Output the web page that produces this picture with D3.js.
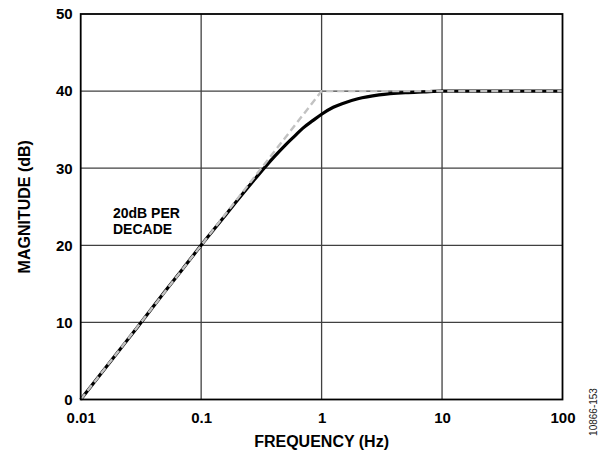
<!DOCTYPE html>
<html><head><meta charset="utf-8">
<script src="https://cdn.jsdelivr.net/npm/d3@7/dist/d3.min.js"></script>
<style>body{margin:0;background:#fff;} text{font-family:"Liberation Sans",Arial,sans-serif;}</style>
</head><body>
<svg id="c" width="601" height="450"></svg>
<script>
const xTicks = [0.01, 0.1, 1, 10, 100];
const xTickLabels = ["0.01", "0.1", "1", "10", "100"];
const yTicks = [0, 10, 20, 30, 40, 50];
const respFreq = [0.01, 0.02, 0.03, 0.05, 0.07, 0.1, 0.15, 0.2, 0.3, 0.4, 0.5, 0.6, 0.7, 0.85, 1, 1.25, 1.5, 2, 3, 5, 7, 10, 30, 100];
const respDb   = [0, 6.0, 9.5, 14.0, 16.9, 20.0, 23.4, 25.85, 29.17, 31.4, 33.0, 34.2, 35.2, 36.2, 37.0, 37.9, 38.4, 39.0, 39.5, 39.8, 39.9, 40.0, 40.0, 40.0];
const asymFreq = [0.01, 1, 100];
const asymDb   = [0, 40, 40];

const svg = d3.select("#c");
const L = 80.7, R = 562.5, T = 14, B = 399.5;
const x = d3.scaleLog().domain([0.01, 100]).range([L, R]);
const y = d3.scaleLinear().domain([0, 50]).range([B, T]);

// grid
svg.append("g").selectAll("line").data(xTicks.slice(1, -1)).join("line")
  .attr("x1", d => x(d)).attr("x2", d => x(d)).attr("y1", T).attr("y2", B)
  .attr("stroke", "#404040").attr("stroke-width", 1.3);
svg.append("g").selectAll("line").data(yTicks.slice(1, -1)).join("line")
  .attr("y1", d => y(d)).attr("y2", d => y(d)).attr("x1", L).attr("x2", R)
  .attr("stroke", "#404040").attr("stroke-width", 1.3);

// curves
const line = d3.line().x(d => x(d[0])).y(d => y(d[1])).curve(d3.curveMonotoneX);
svg.append("path").datum(respFreq.map((f, i) => [f, respDb[i]]))
  .attr("d", line).attr("fill", "none").attr("stroke", "#000").attr("stroke-width", 3.2);
const line2 = d3.line().x(d => x(d[0])).y(d => y(d[1]));
svg.append("path").datum(asymFreq.map((f, i) => [f, asymDb[i]]))
  .attr("d", line2).attr("fill", "none").attr("stroke", "#c2c2c2").attr("stroke-width", 2.4)
  .attr("stroke-dasharray", "7,4");

// frame
svg.append("rect").attr("x", L).attr("y", T).attr("width", R - L).attr("height", B - T)
  .attr("fill", "none").attr("stroke", "#000").attr("stroke-width", 1.8);

// axes labels
const xAxis = d3.axisBottom(x).tickValues(xTicks).tickFormat((d, i) => xTickLabels[i]).tickSize(0).tickPadding(13);
const gx = svg.append("g").attr("transform", `translate(0,${B})`).call(xAxis);
gx.select(".domain").remove();
gx.selectAll("text").attr("font-size", 15).attr("font-weight", "bold").attr("fill", "#000")
  .style("font-family", "'Liberation Sans',Arial,sans-serif");

const yAxis = d3.axisLeft(y).tickValues(yTicks).tickSize(0).tickPadding(8);
const gy = svg.append("g").attr("transform", `translate(${L},0)`).call(yAxis);
gy.select(".domain").remove();
gy.selectAll("text").attr("font-size", 15).attr("font-weight", "bold").attr("fill", "#000")
  .style("font-family", "'Liberation Sans',Arial,sans-serif");

svg.append("text").attr("x", (L + R) / 2).attr("y", 447).attr("text-anchor", "middle")
  .attr("font-size", 16).attr("font-weight", "bold").text("FREQUENCY (Hz)");
svg.append("text").attr("transform", `translate(30,${(T + B) / 2}) rotate(-90)`).attr("text-anchor", "middle")
  .attr("font-size", 16).attr("font-weight", "bold").text("MAGNITUDE (dB)");

svg.append("text").attr("x", 113).attr("y", 218).attr("font-size", 14).attr("font-weight", "bold").text("20dB PER");
svg.append("text").attr("x", 113).attr("y", 234).attr("font-size", 14).attr("font-weight", "bold").text("DECADE");

svg.append("text").attr("transform", "translate(597,412) rotate(-90)").attr("text-anchor", "middle")
  .attr("font-size", 10).attr("fill", "#222").text("10866-153");
</script>
</body></html>
